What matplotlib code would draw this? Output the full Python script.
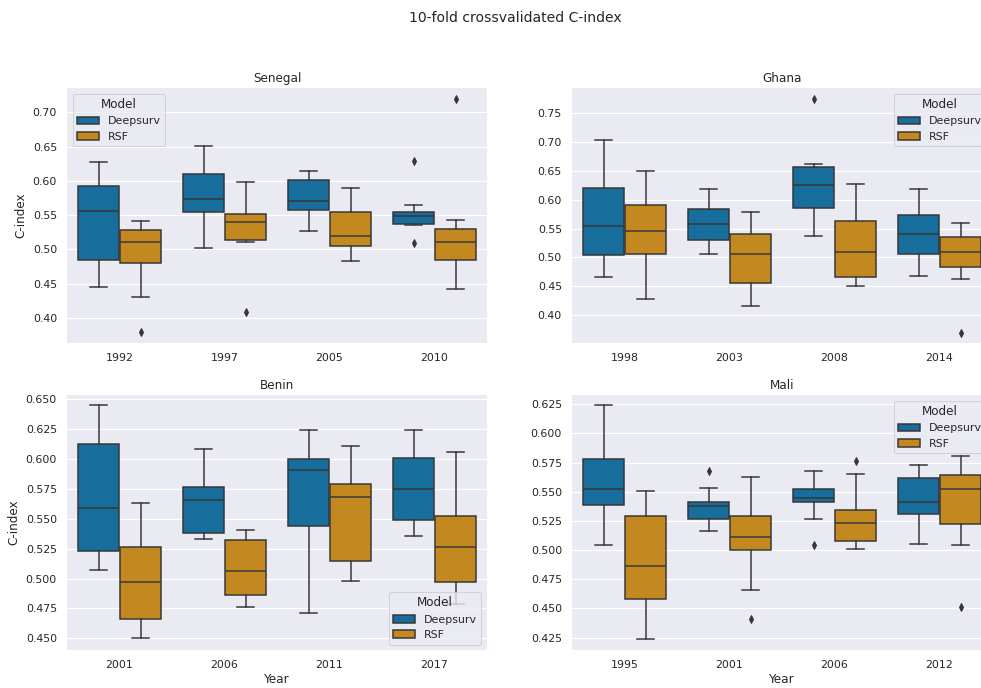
import colorsys
import numpy as np
import matplotlib
matplotlib.use("Agg")
import matplotlib.pyplot as plt
from matplotlib.patches import Patch

# --- data (box stats: lo, q1, med, q3, hi) ---
models = ["Deepsurv", "RSF"]

senegal_years = ["1992", "1997", "2005", "2010"]
senegal_deepsurv = [(0.445, 0.484, 0.556, 0.593, 0.627),
                    (0.502, 0.555, 0.574, 0.610, 0.651),
                    (0.527, 0.557, 0.571, 0.601, 0.614),
                    (0.536, 0.537, 0.549, 0.554, 0.565)]
senegal_deepsurv_fliers = [[], [], [], [0.629, 0.509]]
senegal_rsf = [(0.431, 0.480, 0.511, 0.528, 0.542),
               (0.511, 0.514, 0.540, 0.552, 0.598),
               (0.483, 0.505, 0.519, 0.554, 0.589),
               (0.442, 0.484, 0.511, 0.530, 0.543)]
senegal_rsf_fliers = [[0.379], [0.408], [], [0.720]]

ghana_years = ["1998", "2003", "2008", "2014"]
ghana_deepsurv = [(0.466, 0.505, 0.555, 0.620, 0.703),
                  (0.506, 0.531, 0.558, 0.584, 0.618),
                  (0.537, 0.586, 0.625, 0.657, 0.661),
                  (0.468, 0.506, 0.541, 0.574, 0.618)]
ghana_deepsurv_fliers = [[], [], [0.775], []]
ghana_rsf = [(0.429, 0.506, 0.546, 0.591, 0.650),
             (0.416, 0.455, 0.506, 0.541, 0.578),
             (0.450, 0.466, 0.510, 0.564, 0.627),
             (0.463, 0.484, 0.510, 0.535, 0.560)]
ghana_rsf_fliers = [[], [], [], [0.370]]

benin_years = ["2001", "2006", "2011", "2017"]
benin_deepsurv = [(0.507, 0.523, 0.559, 0.613, 0.645),
                  (0.533, 0.538, 0.566, 0.577, 0.608),
                  (0.471, 0.544, 0.591, 0.600, 0.624),
                  (0.536, 0.549, 0.575, 0.601, 0.624)]
benin_deepsurv_fliers = [[], [], [], []]
benin_rsf = [(0.450, 0.466, 0.497, 0.526, 0.563),
             (0.476, 0.486, 0.506, 0.532, 0.541),
             (0.498, 0.515, 0.568, 0.579, 0.611),
             (0.479, 0.497, 0.526, 0.552, 0.606)]
benin_rsf_fliers = [[], [], [], []]

mali_years = ["1995", "2001", "2006", "2012"]
mali_deepsurv = [(0.504, 0.539, 0.552, 0.578, 0.624),
                 (0.516, 0.527, 0.538, 0.541, 0.553),
                 (0.527, 0.541, 0.545, 0.552, 0.568),
                 (0.505, 0.531, 0.541, 0.562, 0.573)]
mali_deepsurv_fliers = [[], [0.568], [0.504], []]
mali_rsf = [(0.424, 0.458, 0.486, 0.529, 0.551),
            (0.466, 0.500, 0.511, 0.529, 0.563),
            (0.501, 0.508, 0.523, 0.534, 0.565),
            (0.504, 0.522, 0.552, 0.564, 0.581)]
mali_rsf_fliers = [[], [0.441], [0.576], [0.451]]

# --- colours: seaborn colorblind, desaturated 0.75 ---
def desat(hexc, prop=0.75):
    r, g, b = matplotlib.colors.to_rgb(hexc)
    h, l, s = colorsys.rgb_to_hls(r, g, b)
    return colorsys.hls_to_rgb(h, l, s * prop)

colors = [desat("#0173B2"), desat("#DE8F05")]
lum = min(colorsys.rgb_to_hls(*c)[1] for c in colors) * 0.6
gray = (lum, lum, lum)
text_c = "0.15"

plt.rcParams.update({
    "font.family": "DejaVu Sans",
    "text.color": text_c,
    "axes.labelcolor": text_c,
    "xtick.color": text_c,
    "ytick.color": text_c,
})

W, H, DPI = 981, 688, 72
fig = plt.figure(figsize=(W / DPI, H / DPI), dpi=DPI)

ax_w = 420 / W
ax_h = 255 / H
lefts = [67 / W, 572 / W]
bottoms = [1 - 343 / H, 1 - 650 / H]

panels = [
    ("Senegal", senegal_years, senegal_deepsurv, senegal_deepsurv_fliers, senegal_rsf, senegal_rsf_fliers,
     0, 0, "upper left", (0.40, 0.70, 0.05), (0.3634, 0.7356)),
    ("Ghana", ghana_years, ghana_deepsurv, ghana_deepsurv_fliers, ghana_rsf, ghana_rsf_fliers,
     0, 1, "upper right", (0.40, 0.75, 0.05), (0.3520, 0.7934)),
    ("Benin", benin_years, benin_deepsurv, benin_deepsurv_fliers, benin_rsf, benin_rsf_fliers,
     1, 0, "lower right", (0.45, 0.65, 0.025), (0.4402, 0.6536)),
    ("Mali", mali_years, mali_deepsurv, mali_deepsurv_fliers, mali_rsf, mali_rsf_fliers,
     1, 1, "upper right", (0.425, 0.625, 0.025), (0.4144, 0.6330)),
]

for title, years, ds, ds_fl, rsf, rsf_fl, r, c, loc, tks, ylim in panels:
    ax = fig.add_axes([lefts[c], bottoms[r], ax_w, ax_h])
    ax.set_facecolor("#EAEAF2")
    for sp in ax.spines.values():
        sp.set_visible(False)
    ax.grid(True, axis="y", color="white", linewidth=1.2)
    ax.set_axisbelow(True)

    for k, (vals, fls) in enumerate([(ds, ds_fl), (rsf, rsf_fl)]):
        stats = []
        for v, f in zip(vals, fls):
            lo, q1, med, q3, hi = v
            stats.append(dict(whislo=lo, q1=q1, med=med, q3=q3, whishi=hi, fliers=f))
        pos = [i - 0.2 + 0.4 * k for i in range(len(years))]
        ax.bxp(stats, positions=pos, widths=0.392, patch_artist=True, showfliers=True,
               capwidths=0.16,
               boxprops=dict(facecolor=colors[k], edgecolor=gray, linewidth=1.5),
               medianprops=dict(color=gray, linewidth=1.5),
               whiskerprops=dict(color=gray, linewidth=1.5),
               capprops=dict(color=gray, linewidth=1.5),
               flierprops=dict(marker="d", markersize=5, markerfacecolor=gray,
                               markeredgecolor=gray, linestyle="none"),
               manage_ticks=False, zorder=2)

    ax.set_xticks(range(len(years)))
    ax.set_xticklabels(years)
    ax.set_xlim(-0.5, len(years) - 0.5)
    ax.set_yticks(np.arange(tks[0], tks[1] + 1e-9, tks[2]))
    ax.set_ylim(*ylim)
    fmt = "%.3f" if tks[2] < 0.05 else "%.2f"
    ax.yaxis.set_major_formatter(matplotlib.ticker.FormatStrFormatter(fmt))
    ax.tick_params(axis="both", length=0, labelsize=11, pad=10)
    ax.set_title(title, fontsize=12)
    if c == 0:
        ax.set_ylabel("C-index", fontsize=12, labelpad=5)
    if r == 1:
        ax.set_xlabel("Year", fontsize=12, labelpad=3)

    handles = [Patch(facecolor=colors[k], edgecolor=gray, linewidth=1.5, label=m)
               for k, m in enumerate(models)]
    ax.legend(handles=handles, title="Model", loc=loc, fontsize=11,
              title_fontsize=12, facecolor="#EAEAF2", edgecolor="0.8",
              framealpha=0.8)

fig.suptitle("10-fold crossvalidated C-index", x=515 / W, y=1 - 18 / H,
             va="center", fontsize=14)

fig.savefig("out.png", dpi=DPI)
